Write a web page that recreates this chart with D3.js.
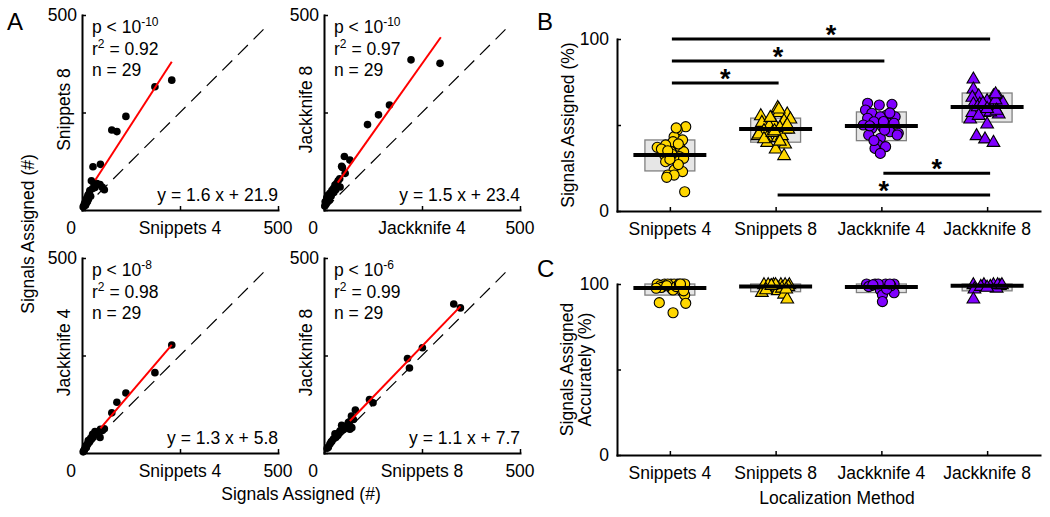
<!DOCTYPE html>
<html><head><meta charset="utf-8">
<script src="https://cdn.jsdelivr.net/npm/d3@7"></script>
<style>
body{margin:0;background:#fff}
svg{display:block}
text{font-family:"Liberation Sans",Arial,sans-serif;fill:#000}
</style>
</head><body>
<svg id="c" width="1050" height="517"></svg>
<script>
// ---------------- DATA ----------------
// Panel A: scatter comparisons (counts, #)
const scatterXLabels = ["Snippets 4", "Jackknife 4", "Snippets 4", "Snippets 8"];
const scatterYLabels = ["Snippets 8", "Jackknife 8", "Jackknife 4", "Jackknife 8"];
const pExponents = ["-10", "-10", "-8", "-6"];
const r2Values = ["0.92", "0.97", "0.98", "0.99"];
const nValues = [29, 29, 29, 29];
const fitSlopes = [1.6, 1.5, 1.3, 1.1];
const fitIntercepts = [21.9, 23.4, 5.8, 7.7];
// drawn regression segments (data units)
const fitX0 = [34, 35, 47, 66];
const fitY0 = [77, 70, 63, 82];
const fitX1 = [229, 298, 229, 348];
const fitY1 = [380, 443, 277, 376];
const scatterDomain = [0, 500];
const scatterTicks = [0, 250, 500];
const identityRange = [0, 475];

const snip4 = [229,186,112,89,76,47,28,24,30,38,46,52,57,33,27,20,18,15,22,12,10,8,14,6,5,9,3,11,16];
const snip8 = [333,316,240,201,205,117,111,75,70,68,65,58,52,58,55,50,42,38,35,30,25,20,22,15,10,12,8,18,28];
const jack4x = [296,222,167,139,111,52,47,66,54,45,40,32,36,24,28,41,15,20,7,3,10,12,5,18,8,2,25,14,30];
const jack8y = [376,385,269,244,219,137,109,128,94,112,80,68,75,55,64,59,43,50,31,21,38,28,15,35,20,10,45,25,52];
const jack4y = [277,206,154,130,103,61,40,35,45,52,40,58,62,55,48,30,27,25,38,20,15,12,22,8,6,18,3,14,32];
const snip8x = [331,348,251,213,218,116,125,80,70,66,75,62,54,41,28,24,15,11,71,45,50,35,38,20,58,30,18,8,65];
const jack8y2 = [382,372,270,242,218,137,129,110,95,61,86,78,65,57,49,36,23,15,65,71,60,45,52,30,70,40,28,12,80];
const scatterX = [snip4, jack4x, snip4, snip8x];
const scatterY = [snip8, jack8y, jack4y, jack8y2];

// Panels B & C
const methods = ["Snippets 4", "Snippets 8", "Jackknife 4", "Jackknife 8"];
const markerShapes = ["circle", "triangle", "circle", "triangle"];
const markerColors = ["#ffd700", "#ffd700", "#8000ff", "#8000ff"];
const pctTicks = [0, 50, 100];
const pctTickLabels = ["0", "", "100"];

// B: Signals Assigned (%)
const assignedVals = [
  [49.0,47.1,43.2,41.3,40.3,37.0,38.4,36.4,34.5,34.5,32.6,32.0,31.6,28.7,29.3,30.6,23.8,22.9,20.9,20.9,19.6,11.2,48.3,36,33,27,35,39,30],
  [60.6,55.8,56.8,57.7,51.9,51.9,52.9,53.9,50.0,48.1,47.1,44.2,43.2,43.2,39.3,40.3,36.4,32.6,45.2,44.2,59.7,42.4,49,46,54.8,48,50.5,41,47],
  [62.6,61.6,62.0,58.7,56.8,55.8,54.8,54.8,53.9,51.9,51.0,50.0,49.0,51.0,48.1,46.1,45.2,44.2,42.3,44.2,38.4,36.4,37.4,33.5,47,52,57,41,49.5],
  [77.1,71.3,67.4,66.5,67.4,66.5,64.5,62.6,62.6,60.6,62.6,57.7,56.8,53.9,51.0,44.2,42.3,40.3,57.7,63.5,58,61,65,59,63,56,60,68.5]
];
const assignedJitter = [
  [0.15,0.07,0.04,0.12,0.03,-0.12,-0.04,0.10,0.13,0.01,-0.05,0.06,0.09,-0.04,0.06,0.13,0.04,0.12,-0.02,0.04,-0.03,0.14,0.06,-0.08,0.02,0.08,-0.02,0.08,0.00],
  [0.02,-0.14,0.11,0.03,-0.13,-0.02,0.08,0.14,-0.06,0.09,-0.11,-0.17,-0.08,0.02,0.09,-0.08,0.00,0.08,-0.16,0.06,0.03,-0.11,0.04,-0.03,-0.05,0.12,0.11,0.04,-0.01],
  [-0.13,-0.02,0.10,-0.15,-0.09,0.05,0.13,-0.01,-0.13,-0.07,0.07,-0.17,0.01,0.12,-0.09,0.08,0.16,-0.12,-0.01,0.15,-0.03,-0.06,0.04,-0.01,0.03,0.02,0.08,-0.07,-0.11],
  [-0.13,-0.13,-0.08,-0.14,0.06,0.11,0.00,-0.07,-0.13,0.04,0.12,-0.03,0.11,-0.16,0.00,-0.10,-0.02,0.06,-0.14,0.15,0.03,-0.09,0.08,0.09,-0.04,-0.08,0.00,0.08]
];
const assignedMedian = [32.6, 47.7, 49.4, 60.5];
const assignedQ1 = [23.3, 40.0, 40.9, 51.7];
const assignedQ3 = [41.3, 54.0, 57.6, 68.6];
// significance comparisons
const sigFrom = [1, 1, 1, 3, 2];
const sigTo = [4, 3, 2, 4, 4];
const sigLevel = [100, 87.2, 74.4, 22, 9.3];

// C: Signals Assigned Accurately (%)
const accurateVals = [
  [100,100,100,100,100,100,99,100,99,98,97.5,97,96.5,95.5,93.6,88.7,89.1,83.2,100,98.5,100,99,96,100],
  [100,100,100,100,100,99,98.5,95.5,96.5,94.5,91.6,100,99,97,98,100,99.5,97.5],
  [100,100,100,100,99,98,96.5,94.9,93.6,89.7,100,99,98.5,97,100,99.5],
  [100,100,100,99.5,99,98,97.5,91.6,100,99,98.5,100]
];
const accurateJitter = [
  [-0.12,-0.05,0.01,0.07,0.12,0.14,-0.09,0.04,0.10,-0.08,-0.13,0.02,0.03,0.12,0.14,0.15,-0.10,0.03,-0.02,0.06,0.09,-0.03,0.13,0.10],
  [-0.11,-0.02,0.05,0.13,0.09,-0.05,0.02,-0.13,0.02,0.08,0.11,-0.07,0.12,-0.09,0.06,0.00,-0.04,0.10],
  [-0.14,-0.06,0.04,0.12,-0.10,0.07,-0.01,0.12,0.01,0.01,-0.03,0.09,-0.12,0.05,0.08,-0.08],
  [-0.13,-0.03,0.06,0.12,0.03,0.09,-0.12,-0.13,0.10,-0.06,0.00,0.14]
];
const accurateMedian = [97.7, 98.6, 98.2, 99.0];
const accurateQ1 = [93.5, 95.5, 95.0, 96.0];
const accurateQ3 = [100, 100, 100, 100];

// ---------------- DRAW ----------------
const svg = d3.select("#c");
const FS = 17.5;

function styleAxis(sel){
  sel.select(".domain").attr("stroke","#000").attr("stroke-width",2).attr("stroke-linecap","square");
  sel.selectAll(".tick line").attr("stroke","#000").attr("stroke-width",1.5);
  sel.selectAll(".tick text").remove();
}

// ---- Panel A ----
const panels = [
  {x0:82, x1:278, y0:15, y1:210},
  {x0:324, x1:520, y0:15, y1:210},
  {x0:82, x1:278, y0:258, y1:453},
  {x0:324, x1:520, y0:258, y1:453}
];

panels.forEach((p, i) => {
  const xs = d3.scaleLinear().domain(scatterDomain).range([p.x0, p.x1]);
  const ys = d3.scaleLinear().domain(scatterDomain).range([p.y1, p.y0]);
  const g = svg.append("g");

  g.append("line")
    .attr("x1", xs(identityRange[0])).attr("y1", ys(identityRange[0]))
    .attr("x2", xs(identityRange[1])).attr("y2", ys(identityRange[1]))
    .attr("stroke", "#000").attr("stroke-width", 1.2).attr("stroke-dasharray", "14,8");

  g.append("g").selectAll("circle")
    .data(d3.zip(scatterX[i], scatterY[i]))
    .join("circle")
    .attr("cx", d => xs(d[0])).attr("cy", d => ys(d[1]))
    .attr("r", 3.8).attr("fill", "#000");

  g.append("line")
    .attr("x1", xs(fitX0[i])).attr("y1", ys(fitY0[i]))
    .attr("x2", xs(fitX1[i])).attr("y2", ys(fitY1[i]))
    .attr("stroke", "#ff0000").attr("stroke-width", 2);

  g.append("g").attr("transform", `translate(0,${p.y1})`)
    .call(d3.axisBottom(xs).tickValues(scatterTicks).tickSizeInner(-4).tickSizeOuter(0))
    .call(styleAxis);
  g.append("g").attr("transform", `translate(${p.x0},0)`)
    .call(d3.axisLeft(ys).tickValues(scatterTicks).tickSizeInner(-4).tickSizeOuter(0))
    .call(styleAxis);

  // tick labels
  g.append("text").attr("x", xs(scatterTicks[0]) - 11).attr("y", p.y1 + 24)
    .attr("text-anchor", "middle").attr("font-size", FS).text(scatterTicks[0]);
  g.append("text").attr("x", xs(scatterTicks[2])).attr("y", p.y1 + 24)
    .attr("text-anchor", "middle").attr("font-size", FS).text(scatterTicks[2]);
  g.append("text").attr("x", p.x0 - 5).attr("y", ys(scatterTicks[2]) + 6)
    .attr("text-anchor", "end").attr("font-size", FS).text(scatterTicks[2]);

  // axis labels
  g.append("text").attr("x", (p.x0 + p.x1) / 2).attr("y", p.y1 + 24)
    .attr("text-anchor", "middle").attr("font-size", FS).text(scatterXLabels[i]);
  g.append("text")
    .attr("transform", `translate(${p.x0 - 12},${(p.y0 + p.y1) / 2 - 3}) rotate(-90)`)
    .attr("text-anchor", "middle").attr("font-size", FS).text(scatterYLabels[i]);

  // stats
  const tx = p.x0 + 10;
  const t1 = g.append("text").attr("x", tx).attr("y", p.y0 + 18).attr("font-size", FS);
  t1.append("tspan").text("p < 10");
  t1.append("tspan").attr("dy", -7).attr("font-size", 12).text(pExponents[i]);
  const t2 = g.append("text").attr("x", tx).attr("y", p.y0 + 40).attr("font-size", FS);
  t2.append("tspan").text("r");
  t2.append("tspan").attr("dy", -7).attr("font-size", 12).text("2");
  t2.append("tspan").attr("dy", 7).text(" = " + r2Values[i]);
  g.append("text").attr("x", tx).attr("y", p.y0 + 61).attr("font-size", FS).text("n = " + nValues[i]);

  g.append("text").attr("x", p.x1).attr("y", p.y1 - 9).attr("text-anchor", "end")
    .attr("font-size", FS).text(`y = ${fitSlopes[i]} x + ${fitIntercepts[i]}`);
});

svg.append("text").attr("x", (panels[0].x0 + panels[1].x1) / 2).attr("y", 500)
  .attr("text-anchor", "middle").attr("font-size", FS).text("Signals Assigned (#)");
svg.append("text").attr("transform", `translate(34,${(panels[0].y0 + panels[2].y1) / 2}) rotate(-90)`)
  .attr("text-anchor", "middle").attr("font-size", FS).text("Signals Assigned (#)");

// ---- Panels B & C ----
const xB = d3.scaleLinear().domain([0.5, 4.5]).range([617, 1040]);
const yB = d3.scaleLinear().domain([0, 100]).range([211, 39]);
const yC = d3.scaleLinear().domain([0, 100]).range([455, 284]);

const symCircle = d3.symbol(d3.symbolCircle, 80)();
const symTri = d3.symbol(d3.symbolTriangle, 70)();

function groupPanel(ys, vals, jit, med, q1, q3){
  const g = svg.append("g");
  methods.forEach((m, k) => {
    const c = k + 1;
    g.append("rect")
      .attr("x", xB(c - 0.236)).attr("width", xB(c + 0.236) - xB(c - 0.236))
      .attr("y", ys(q3[k])).attr("height", ys(q1[k]) - ys(q3[k]))
      .attr("fill", "#e6e6e6").attr("stroke", "#808080").attr("stroke-width", 1.3);
    g.append("g").selectAll("path")
      .data(d3.zip(vals[k], jit[k]))
      .join("path")
      .attr("d", markerShapes[k] === "circle" ? symCircle : symTri)
      .attr("transform", d => `translate(${xB(c + d[1])},${ys(d[0]) + (markerShapes[k] === "circle" ? 0 : 1)})`)
      .attr("fill", markerColors[k]).attr("stroke", "#000").attr("stroke-width", 1.1);
    g.append("line")
      .attr("x1", xB(c - 0.345)).attr("x2", xB(c + 0.345))
      .attr("y1", ys(med[k])).attr("y2", ys(med[k]))
      .attr("stroke", "#000").attr("stroke-width", 4);
  });
  const yr = ys.range();
  g.append("g").attr("transform", `translate(0,${yr[0]})`)
    .call(d3.axisBottom(xB).tickValues([1, 2, 3, 4]).tickSizeInner(-4).tickSizeOuter(0))
    .call(styleAxis);
  g.append("g").attr("transform", `translate(${xB.range()[0]},0)`)
    .call(d3.axisLeft(ys).tickValues(pctTicks).tickSizeInner(-4).tickSizeOuter(0))
    .call(styleAxis);
  methods.forEach((m, k) => {
    g.append("text").attr("x", xB(k + 1)).attr("y", yr[0] + 24)
      .attr("text-anchor", "middle").attr("font-size", FS).text(m);
  });
  pctTicks.forEach((t, k) => {
    if (pctTickLabels[k]) g.append("text").attr("x", xB.range()[0] - 8).attr("y", ys(t) + 6)
      .attr("text-anchor", "end").attr("font-size", FS).text(pctTickLabels[k]);
  });
  return g;
}

const gB = groupPanel(yB, assignedVals, assignedJitter, assignedMedian, assignedQ1, assignedQ3);
sigFrom.forEach((f, k) => {
  const xa = xB(f) + 2, xb = xB(sigTo[k]) + 3;
  gB.append("line").attr("x1", xa).attr("x2", xb)
    .attr("y1", yB(sigLevel[k])).attr("y2", yB(sigLevel[k]))
    .attr("stroke", "#000").attr("stroke-width", 3);
  gB.append("text").attr("x", (xa + xb) / 2).attr("y", yB(sigLevel[k]) + 5)
    .attr("text-anchor", "middle").attr("font-size", 27).attr("font-weight", "bold").text("*");
});
gB.append("text").attr("transform", `translate(574,${(yB.range()[0] + yB.range()[1]) / 2}) rotate(-90)`)
  .attr("text-anchor", "middle").attr("font-size", FS).text("Signals Assigned (%)");

const gC = groupPanel(yC, accurateVals, accurateJitter, accurateMedian, accurateQ1, accurateQ3);
const cMid = (yC.range()[0] + yC.range()[1]) / 2;
gC.append("text").attr("transform", `translate(573,${cMid}) rotate(-90)`)
  .attr("text-anchor", "middle").attr("font-size", FS).text("Signals Assigned");
gC.append("text").attr("transform", `translate(591,${cMid}) rotate(-90)`)
  .attr("text-anchor", "middle").attr("font-size", FS).text("Accurately (%)");
gC.append("text").attr("x", 837).attr("y", 504).attr("text-anchor", "middle")
  .attr("font-size", FS).text("Localization Method");

// panel letters
svg.append("text").attr("x", 7).attr("y", 30).attr("font-size", 24).text("A");
svg.append("text").attr("x", 537).attr("y", 30).attr("font-size", 24).text("B");
svg.append("text").attr("x", 537).attr("y", 277).attr("font-size", 24).text("C");
</script>
</body></html>
